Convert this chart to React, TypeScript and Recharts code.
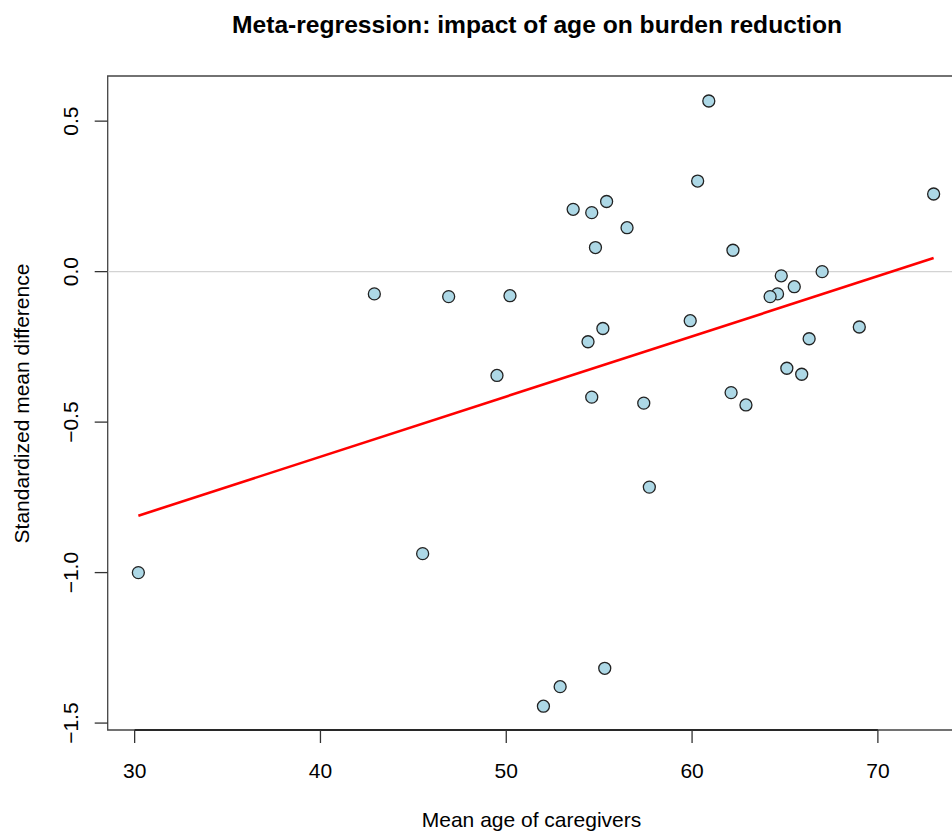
import { ScatterChart, Scatter, XAxis, YAxis, ReferenceLine, ReferenceArea } from "recharts"

// mean caregiver age per study, and its standardized mean difference
const meanAge = [
  30.2, 42.9, 46.9, 50.2, 49.5, 53.6, 54.6, 55.4, 56.5, 54.8, 54.4, 55.2,
  54.6, 57.4, 59.9, 57.7, 45.5, 55.3, 52.9, 52.0, 60.9, 60.3, 62.2, 64.8,
  67.0, 65.5, 64.6, 64.2, 69.0, 66.3, 65.1, 65.9, 62.1, 62.9, 73.0,
]
const smd = [
  -1.0, -0.074, -0.083, -0.08, -0.345, 0.207, 0.196, 0.233, 0.146, 0.08, -0.233, -0.189,
  -0.417, -0.437, -0.163, -0.716, -0.937, -1.318, -1.379, -1.444, 0.567, 0.301, 0.071, -0.014,
  0.0, -0.05, -0.074, -0.083, -0.184, -0.223, -0.321, -0.341, -0.402, -0.443, 0.258,
]

// fitted meta-regression line, end points
const fitAge = [30.2, 73.0]
const fitSmd = [-0.811, 0.045]

const xTicks = [30, 40, 50, 60, 70]
const yTicks = [-1.5, -1.0, -0.5, 0, 0.5]
const xDomain = [28.55, 74.71]
const yDomain = [-1.523, 0.65]

const font = '"Liberation Sans", Arial, sans-serif'

const points = meanAge.map((x, i) => ({ x, y: smd[i] }))
const fit = fitAge.map((x, i) => ({ x, y: fitSmd[i] }))

const fmtY = (v: number) => v.toFixed(1).replace("-", "\u2212")

function XTick(props: any) {
  const { x, y, payload } = props
  return (
    <text x={x} y={y} textAnchor="middle" fontSize={21} fontFamily={font} fill="#000">
      {payload.value}
    </text>
  )
}

function YTick(props: any) {
  const { x, y, payload } = props
  return (
    <text
      x={x}
      y={y}
      transform={`rotate(-90 ${x} ${y})`}
      textAnchor="middle"
      fontSize={21}
      fontFamily={font}
      fill="#000"
    >
      {fmtY(payload.value)}
    </text>
  )
}

function Dot(props: any) {
  return <circle cx={props.cx} cy={props.cy} r={6} fill="#add8e6" stroke="#222" strokeWidth={1.3} />
}

export default function App() {
  return (
    <div
      style={{
        position: "absolute",
        left: 0,
        top: 0,
        width: 952,
        height: 832,
        overflow: "hidden",
        background: "#fff",
        fontFamily: font,
      }}
    >
      <ScatterChart width={980} height={832} margin={{ top: 76, right: 14.6, bottom: 42, left: 47.7 }}>
        <XAxis
          type="number"
          dataKey="x"
          domain={xDomain}
          ticks={xTicks}
          allowDataOverflow
          height={60}
          axisLine={false}
          tickSize={13}
          tickMargin={34.7}
          tickLine={{ stroke: "#333", strokeWidth: 1.3 }}
          tick={<XTick />}
        />
        <YAxis
          type="number"
          dataKey="y"
          domain={yDomain}
          ticks={yTicks}
          allowDataOverflow
          width={60}
          axisLine={false}
          tickSize={13}
          tickMargin={17}
          tickLine={{ stroke: "#333", strokeWidth: 1.3 }}
          tick={<YTick />}
        />
        <ReferenceLine y={0} stroke="#d3d3d3" strokeWidth={1.3} />
        <ReferenceArea
          x1={xDomain[0]}
          x2={xDomain[1]}
          y1={yDomain[0]}
          y2={yDomain[1]}
          fill="none"
          stroke="#444"
          strokeWidth={1.3}
          ifOverflow="visible"
        />
        <ReferenceLine
          segment={[
            { x: xTicks[0], y: yDomain[0] },
            { x: xTicks[xTicks.length - 1], y: yDomain[0] },
          ]}
          stroke="#111"
          strokeWidth={1.3}
        />
        <Scatter data={points} shape={<Dot />} isAnimationActive={false} />
        <Scatter
          data={fit}
          line={{ stroke: "#ff0000", strokeWidth: 2.6 }}
          shape={() => <g />}
          isAnimationActive={false}
        />
      </ScatterChart>
      <svg
        width={952}
        height={832}
        style={{ position: "absolute", left: 0, top: 0, pointerEvents: "none" }}
        fontFamily={font}
      >
        <text
          x={537}
          y={33}
          textAnchor="middle"
          fontSize={23}
          fontWeight="bold"
          textLength={610}
          lengthAdjust="spacingAndGlyphs"
        >
          Meta-regression: impact of age on burden reduction
        </text>
        <text x={531.5} y={827.3} textAnchor="middle" fontSize={21}>
          Mean age of caregivers
        </text>
        <text x={-403.5} y={29} transform="rotate(-90)" textAnchor="middle" fontSize={21}>
          Standardized mean difference
        </text>
      </svg>
    </div>
  )
}
